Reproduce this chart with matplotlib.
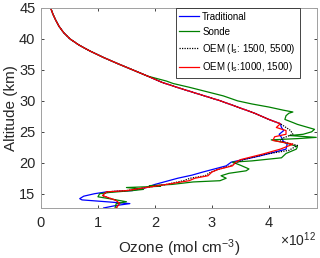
import numpy as np
import matplotlib
matplotlib.use('Agg')
import matplotlib.pyplot as plt

# shared upper part of the profiles (45 km down to 26 km)
alt_top = [45, 44, 43, 42, 41, 40, 39, 38, 37, 36, 35, 34, 33, 32, 31, 30, 29, 28, 27, 26.3]
oz_top = [0.17, 0.21, 0.26, 0.32, 0.4, 0.51, 0.67, 0.87, 1.1, 1.35, 1.61, 1.87, 2.12,
          2.45, 2.8, 3.15, 3.45, 3.75, 4.0, 4.2]

alt_trad = [25.7, 25.2, 24.6, 24.1, 23.5, 23.0, 22.2, 21.1, 20.1, 19.5, 18.5, 18.0, 17.5,
            17.0, 16.5, 16.0, 15.5, 15.3, 15.0, 14.6, 14.2, 14.0, 13.7, 13.4, 13.1, 12.7]
oz_trad = [4.22, 4.26, 4.18, 4.22, 4.25, 4.32, 4.3, 3.84, 3.34, 3.25, 2.84, 2.65, 2.4,
           2.2, 2.0, 1.85, 1.6, 1.15, 0.94, 0.75, 0.68, 0.72, 1.15, 1.56, 1.32, 1.1]

alt_sonde = [33.2, 32.8, 32.2, 31.5, 30.8, 30.0, 29.5, 29.0, 28.5, 28.2, 28.0, 27.6, 27.0,
             26.5, 26.2, 25.8, 25.4, 25.0, 24.6, 24.4, 24.1, 23.9, 23.7, 23.2, 22.6, 22.2,
             21.5, 20.8, 20.3, 20.1, 19.6, 19.0, 18.7, 18.3, 17.9, 17.5, 17.1, 16.9, 16.5,
             16.3, 16.2, 16.0, 15.7, 15.5, 15.2, 15.0, 14.5, 14.2, 13.9, 13.7, 13.4, 12.7]
oz_sonde = [2.2, 2.32, 2.6, 2.9, 3.2, 3.45, 3.7, 4.0, 4.25, 4.42, 4.35, 4.3, 4.28,
            4.42, 4.5, 4.65, 4.8, 4.75, 4.6, 4.36, 4.83, 4.5, 4.04, 4.3, 4.5, 4.48,
            4.3, 4.22, 3.7, 3.36, 3.5, 3.65, 3.6, 3.3, 3.16, 3.25, 3.14, 2.67, 2.3,
            1.9, 2.1, 1.5, 1.8, 1.6, 1.2, 1.03, 1.0, 1.2, 1.38, 1.5, 1.32, 1.3]

alt_oem1 = [25.7, 25.2, 24.6, 24.0, 23.5, 22.8, 22.0, 21.4, 20.5, 20.1, 19.5, 18.9, 18.5,
            17.9, 17.5, 17.1, 16.5, 16.0, 15.5, 15.3, 14.7, 13.9, 13.4, 12.7]
oz_oem1 = [4.3, 4.38, 4.42, 4.25, 4.2, 4.5, 4.35, 3.95, 3.55, 3.45, 3.32, 3.1, 2.98,
           2.88, 2.62, 2.5, 2.2, 1.85, 1.5, 1.15, 1.08, 1.32, 1.38, 1.32]

alt_oem2 = [25.7, 25.2, 24.6, 24.2, 23.6, 23.0, 22.2, 21.4, 20.5, 20.1, 19.5, 18.9, 18.5,
            17.9, 17.5, 17.1, 16.5, 16.0, 15.5, 15.3, 14.7, 13.9, 13.4, 12.7]
oz_oem2 = [4.13, 4.3, 4.3, 4.1, 4.07, 4.42, 4.2, 3.89, 3.5, 3.42, 3.36, 3.1, 3.0,
           2.93, 2.7, 2.6, 2.2, 1.85, 1.5, 1.15, 1.08, 1.32, 1.38, 1.32]

labels = ['Traditional', 'Sonde', 'OEM (I$_s$: 1500, 5500)', 'OEM (I$_s$:1000, 1500)']

plt.rcParams['font.family'] = ['Arial', 'Liberation Sans', 'DejaVu Sans']
plt.rcParams['mathtext.fontset'] = 'custom'
plt.rcParams['mathtext.rm'] = 'Liberation Sans'
plt.rcParams['mathtext.it'] = 'Liberation Sans'
fig = plt.figure(figsize=(3.2, 2.58), dpi=100)
ax = fig.add_axes([0.128, 0.194, 0.862, 0.775])

ax.plot(oz_top + oz_trad, alt_top + alt_trad, color='blue', lw=0.9, label=labels[0])
ax.plot(oz_top[:12] + oz_sonde, alt_top[:12] + alt_sonde, color='#008000', lw=0.9, label=labels[1])
ax.plot(oz_top + oz_oem1, alt_top + alt_oem1, color='black', lw=0.9, ls=(0, (1, 1)), label=labels[2])
ax.plot(oz_top + oz_oem2, alt_top + alt_oem2, color='red', lw=0.9, label=labels[3])

ax.set_xlim(0, 4.84)
ax.set_ylim(12.7, 45)
ax.set_xticks([0, 1, 2, 3, 4])
ax.set_yticks([15, 20, 25, 30, 35, 40, 45])
ax.tick_params(direction='in', top=True, right=True, length=2.5, width=0.6,
               labelsize=10.5, colors='#262626', pad=4, labelcolor='#262626')
ax.tick_params(axis='x', pad=6)
for s in ax.spines.values():
    s.set_color('#a0a0a0')
    s.set_linewidth(0.7)

ax.set_xlabel('Ozone (mol cm$^{-3}$)', fontsize=11, color='#262626', labelpad=5)
ax.set_ylabel('Altitude (km)', fontsize=11, color='#262626', labelpad=1)
fig.text(0.875, 0.045, r'$\times$10$^{12}$', fontsize=10, color='#262626', ha='left')

leg = ax.legend(loc='upper right', bbox_to_anchor=(0.938, 1.0), fontsize=7,
                handlelength=2.05, handletextpad=0.3, borderpad=0.4, labelspacing=0.5,
                fancybox=False, framealpha=1, borderaxespad=0)
leg.get_frame().set_edgecolor('#262626')
leg.get_frame().set_linewidth(0.6)

fig.savefig('out.png', dpi=100)
